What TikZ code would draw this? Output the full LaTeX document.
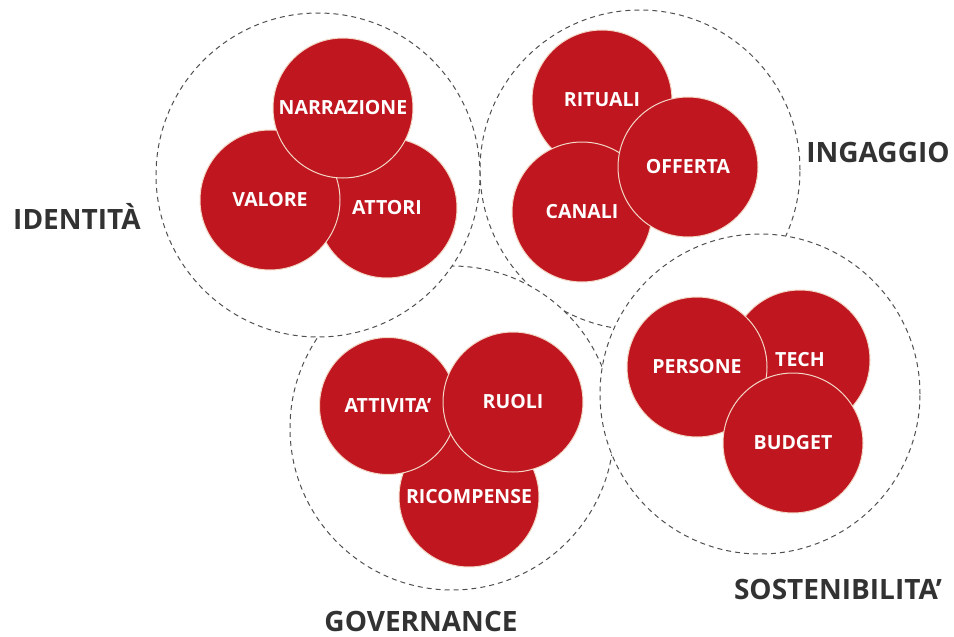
\documentclass[tikz,border=0pt]{standalone}
\usepackage{fontspec}
\IfFontExistsTF{Open Sans ExtraBold}
	{\setmainfont{Open Sans}[BoldFont={Open Sans ExtraBold}]}
	{\setmainfont{Open Sans}}
\definecolor{petalred}{RGB}{192,22,32}
\definecolor{rimcream}{RGB}{242,216,198}
\definecolor{labelgray}{RGB}{50,50,50}
\definecolor{dashgray}{RGB}{80,80,80}
\tikzset{
	cluster/.style={
			circle, draw=dashgray, dash pattern=on 5pt off 4pt, line width=1pt,
			fill=white, minimum size=#1, inner sep=0pt},
	petal/.style={
			circle, fill=petalred, draw=rimcream, line width=1pt,
			minimum size=140pt, inner sep=0pt, text=white,
			font=\bfseries\fontsize{19.5}{19.5}\selectfont},
	areaname/.style={text=labelgray, font=\bfseries\fontsize{28}{28}\selectfont}
}

\begin{document}
\begin{tikzpicture}[x=1pt, y=-1pt]
	\useasboundingbox (0,0) rectangle (954,637);

	% ingaggio
	\node[cluster=320pt] (ing) at (640,170) {};
	\node[petal] (rituali) at (602,100) {RITUALI};
	\node[petal] (canali) at (582,212) {CANALI};
	\node[petal] (offerta) at (688,167) {OFFERTA};

	% governance
	\node[cluster=324pt] (gov) at (452,428) {};
	\node[petal] (ricompense) at (469,497) {RICOMPENSE};
	\node[petal, minimum size=137pt] (attivita) at (388,406) {ATTIVITA'};
	\node[petal] (ruoli) at (513,402) {RUOLI};

	% identita
	\node[cluster=324pt] (ide) at (318,175) {};
	\node[petal] (attori) at (387,208) {ATTORI};
	\node[petal] (valore) at (270,200) {VALORE};
	\node[petal] (narrazione) at (343,108) {NARRAZIONE};

	% sostenibilita
	\node[cluster=320pt] (sos) at (760,394) {};
	\node[petal] (tech) at (800,360) {TECH};
	\node[petal] (persone) at (697,367) {PERSONE};
	\node[petal] (budget) at (793,443) {BUDGET};

	\node[areaname] (ideLabel) at (77,216) {IDENTITÀ};
	\node[areaname] (ingLabel) at (878,152) {INGAGGIO};
	\node[areaname] (govLabel) at (421,621) {GOVERNANCE};
	\node[areaname] (sosLabel) at (838,589) {SOSTENIBILITA'};
\end{tikzpicture}
\end{document}
